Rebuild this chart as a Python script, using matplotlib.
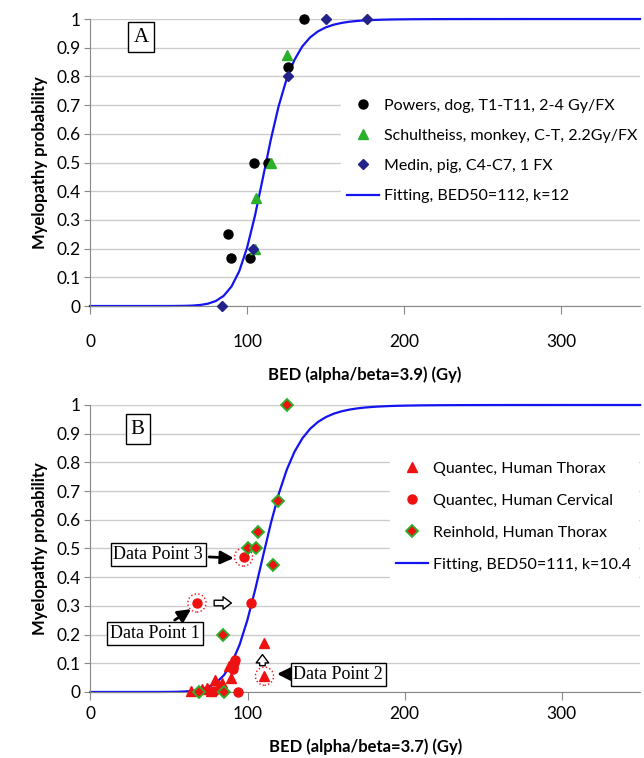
import numpy as np
import matplotlib
matplotlib.use("Agg")
import matplotlib.pyplot as plt

# --- data, panel A ---
powers_x = [136, 126.1, 104.6, 113.2, 88.0, 89.5, 101.6]
powers_y = [1.0, 0.833, 0.5, 0.5, 0.25, 0.167, 0.167]
schult_x = [125.5, 115.1, 105.4, 105.0]
schult_y = [0.875, 0.5, 0.375, 0.2]
medin_x = [150, 176.5, 126.1, 103.9, 84]
medin_y = [1.0, 1.0, 0.8, 0.2, 0.0]
fitA_bed50, fitA_k = 112, 12

# --- data, panel B ---
thorax_x = [64, 71, 74, 76.5, 79, 82, 84, 88, 89.6, 90.5, 110.8, 110.8]
thorax_y = [0.005, 0.01, 0.015, 0.005, 0.04, 0.02, 0.03, 0.09, 0.05, 0.1, 0.17, 0.055]
cerv_x = [67.8, 97.5, 102.1, 90.5, 91.5, 92.3, 78.5, 93.7]
cerv_y = [0.31, 0.47, 0.31, 0.08, 0.10, 0.11, 0.005, 0.0]
rein_x = [125, 119.2, 106.5, 100.4, 105.5, 116.5, 84.1, 69.1, 84.8]
rein_y = [1.0, 0.667, 0.556, 0.50, 0.50, 0.444, 0.20, 0.0, 0.0]
fitB_bed50, fitB_k = 111, 10.4

# highlighted points (Data Point 1, 2, 3)
hl_x = [67.8, 110.8, 97.5]
hl_y = [0.31, 0.055, 0.47]

yticks = [0, 0.1, 0.2, 0.3, 0.4, 0.5, 0.6, 0.7, 0.8, 0.9, 1]
ytick_labels = ["0", "0.1", "0.2", "0.3", "0.4", "0.5", "0.6", "0.7", "0.8", "0.9", "1"]
xticks = [0, 100, 200, 300]

plt.rcParams['font.family'] = ['Lato', 'DejaVu Sans']

BLUE = '#1414f0'
RED = '#ee1111'
GREEN = '#2ab02a'
NAVY = '#22228a'


def fit_curve(bed50, k):
    bed = np.arange(0, 351, 5, dtype=float)
    p = np.zeros_like(bed)
    p[1:] = 1.0 / (1.0 + (bed50 / bed[1:]) ** k)
    return bed, p


def style_axes(ax, xlabel, tickpad):
    ax.set_xlim(0, 350)
    ax.set_ylim(0, 1)
    ax.set_yticks(yticks)
    ax.set_yticklabels(ytick_labels)
    ax.set_xticks(xticks)
    ax.grid(axis='y', color='#cccccc', linewidth=1)
    ax.set_axisbelow(True)
    for s in ['top', 'right']:
        ax.spines[s].set_visible(False)
    for s in ['left', 'bottom']:
        ax.spines[s].set_color('#888888')
    ax.tick_params(axis='y', colors='#888888', labelcolor='black', length=4,
                   labelsize=12.5, pad=3)
    ax.tick_params(axis='x', colors='#888888', labelcolor='black', length=6,
                   labelsize=12.5, pad=tickpad)
    ax.set_ylabel('Myelopathy probability', fontsize=12, fontweight='bold', labelpad=6)
    ax.set_xlabel(xlabel, fontsize=12, fontweight='bold', labelpad=12)


fig = plt.figure(figsize=(6.44, 7.58), dpi=100)
axA = fig.add_axes([0.1398, 0.5963, 0.854, 0.3786])
axB = fig.add_axes([0.1405, 0.0871, 0.8535, 0.3786])

leg_kw = dict(loc='upper left', fontsize=11.5, frameon=True, facecolor='white',
              edgecolor='white', framealpha=1, fancybox=False, handlelength=2.0,
              handletextpad=0.3, borderaxespad=0, borderpad=0.4)

# ---- panel A ----
xA, pA = fit_curve(fitA_bed50, fitA_k)
axA.plot(xA, pA, color=BLUE, lw=1.6, zorder=2, clip_on=False,
         label=f'Fitting, BED50={fitA_bed50}, k={fitA_k}')
axA.plot(powers_x, powers_y, 'o', color='black', ms=6.5, ls='none', zorder=3,
         clip_on=False, label='Powers, dog, T1-T11, 2-4 Gy/FX')
axA.plot(schult_x, schult_y, '^', color=GREEN, ms=7, ls='none', zorder=3,
         clip_on=False, label='Schultheiss, monkey, C-T, 2.2Gy/FX')
axA.plot(medin_x, medin_y, 'D', color=NAVY, ms=5, ls='none', zorder=3,
         clip_on=False, label='Medin, pig, C4-C7, 1 FX')
style_axes(axA, 'BED (alpha/beta=3.9) (Gy)', 14)
h, l = axA.get_legend_handles_labels()
legA = axA.legend([h[1], h[2], h[3], h[0]], [l[1], l[2], l[3], l[0]],
                  bbox_to_anchor=(0.456, 0.745), labelspacing=1.0, **leg_kw)
legA.set_zorder(1)
axA.text(0.093, 0.937, 'A', transform=axA.transAxes, fontsize=15,
         family='Liberation Serif', ha='center', va='center',
         bbox=dict(boxstyle='square,pad=0.25', fc='white', ec='black', lw=1))

# ---- panel B ----
xB, pB = fit_curve(fitB_bed50, fitB_k)
axB.plot(xB, pB, color=BLUE, lw=1.6, zorder=2, clip_on=False,
         label=f'Fitting, BED50={fitB_bed50}, k={fitB_k}')
axB.scatter(hl_x, hl_y, s=170, facecolors='white', edgecolors=RED,
            linestyle=':', linewidths=1.0, zorder=3, clip_on=False)
axB.plot(thorax_x, thorax_y, '^', color=RED, ms=7, ls='none', zorder=4,
         clip_on=False, label='Quantec, Human Thorax')
axB.plot(cerv_x, cerv_y, 'o', color=RED, ms=6.5, ls='none', zorder=4,
         clip_on=False, label='Quantec, Human Cervical')
axB.plot(rein_x, rein_y, 'D', color=RED, mec=GREEN, mew=1.3, ms=6, ls='none',
         zorder=4, clip_on=False, label='Reinhold, Human Thorax')
style_axes(axB, 'BED (alpha/beta=3.7) (Gy)', 4)
h, l = axB.get_legend_handles_labels()
legB = axB.legend([h[1], h[2], h[3], h[0]], [l[1], l[2], l[3], l[0]],
                  bbox_to_anchor=(0.545, 0.824), labelspacing=1.11, **leg_kw)
legB.set_zorder(1)
axB.text(0.086, 0.916, 'B', transform=axB.transAxes, fontsize=15,
         family='Liberation Serif', ha='center', va='center',
         bbox=dict(boxstyle='square,pad=0.25', fc='white', ec='black', lw=1))

box = dict(boxstyle='square,pad=0.15', fc='white', ec='black', lw=1)
arrow = dict(arrowstyle='-|>,head_width=0.3,head_length=0.6', color='black', lw=2)
axB.annotate('Data Point 3', xy=(93, 0.466), xytext=(43.2, 0.479), fontsize=13,
             family='Liberation Serif', ha='center', va='center', bbox=box,
             arrowprops=arrow, zorder=5)
axB.annotate('Data Point 1', xy=(65.5, 0.294), xytext=(41, 0.204), fontsize=13,
             family='Liberation Serif', ha='center', va='center', bbox=box,
             arrowprops=arrow, zorder=5)
axB.annotate('Data Point 2', xy=(117, 0.063), xytext=(157.8, 0.061), fontsize=13,
             family='Liberation Serif', ha='center', va='center', bbox=box,
             arrowprops=arrow, zorder=5)
hollow = dict(arrowstyle='simple,head_width=0.9,head_length=0.6,tail_width=0.4',
              fc='white', ec='black', lw=1)
axB.annotate('', xy=(91.5, 0.31), xytext=(77, 0.31), arrowprops=hollow, zorder=5)
axB.annotate('', xy=(109.5, 0.14), xytext=(109.5, 0.082), arrowprops=hollow, zorder=5)

fig.savefig('out.png', dpi=100)
